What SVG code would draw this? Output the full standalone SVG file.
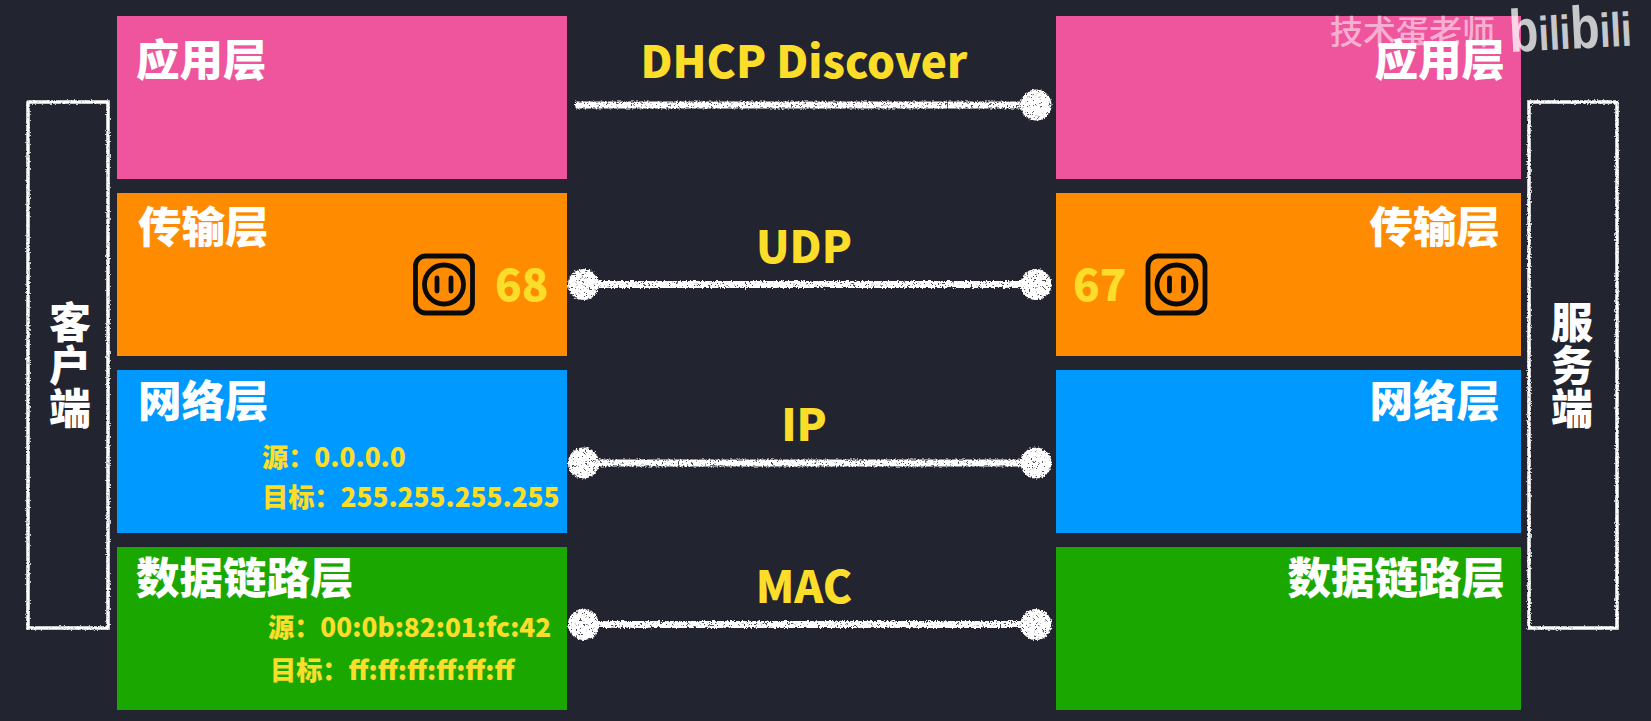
<svg xmlns="http://www.w3.org/2000/svg" width="1651" height="721" viewBox="0 0 1651 721">
<defs>
<filter id="chalk" filterUnits="userSpaceOnUse" x="0" y="0" width="1651" height="721" color-interpolation-filters="sRGB"><feTurbulence type="fractalNoise" baseFrequency="0.7" numOctaves="2" seed="3" result="n"/><feDisplacementMap in="SourceGraphic" in2="n" scale="3" xChannelSelector="R" yChannelSelector="G"/></filter>
<filter id="speck" filterUnits="userSpaceOnUse" x="0" y="0" width="1651" height="721" color-interpolation-filters="sRGB"><feTurbulence type="fractalNoise" baseFrequency="0.55" numOctaves="2" seed="8" result="n"/><feColorMatrix in="n" type="matrix" values="0 0 0 0 0.3  0 0 0 0 0.3  0 0 0 0 0.33  14 0 0 0 -8.4" result="d"/><feComposite in="d" in2="SourceGraphic" operator="in" result="dd"/><feMerge result="m"><feMergeNode in="SourceGraphic"/><feMergeNode in="dd"/></feMerge><feDisplacementMap in="m" in2="n" scale="4" xChannelSelector="G" yChannelSelector="R"/></filter>
<g id="socket"><rect x="-28.500" y="-28.500" width="57" height="57" rx="10" class="sk"/><circle r="19.500" class="sk"/><path d="M-7 -6.500V6.500M7 -6.500V6.500" class="sk" stroke-linecap="round"/></g>
</defs>
<style>
text{font-family:"Noto Sans CJK SC","Noto Sans",sans-serif}
.h{font-size:43.500px;font-weight:900;fill:#fff}
.e{text-anchor:end}
.p{font-size:44px;font-weight:900;fill:#FBDD2A}
.l{font-size:44px;font-weight:900;fill:#FBDD2A;text-anchor:middle}
.s{font-size:26.200px;font-weight:900;fill:#FBDD2A}
.v{font-size:42px;font-weight:900;fill:#fff;text-anchor:middle}
.sk{fill:none;stroke:#0a0a0a;stroke-width:4.800}
.box{fill:none;stroke:#fff;stroke-width:3.500}
.ln{stroke:#fff;stroke-width:7;fill:none}
.dot{fill:#fff}
</style>
<rect width="1651" height="721" fill="#22252F"/>
<g id="client-label"><rect class="box" filter="url(#chalk)" x="28" y="102" width="80" height="526"/><text class="v" x="70" y="338">客</text><text class="v" x="70" y="381">户</text><text class="v" x="70" y="424">端</text></g>
<g id="server-label"><rect class="box" filter="url(#chalk)" x="1529" y="102" width="88" height="526"/><text class="v" x="1572" y="338">服</text><text class="v" x="1572" y="381">务</text><text class="v" x="1572" y="424">端</text></g>
<g id="client-app"><rect x="117" y="16" width="450" height="163" fill="#EE559D"/><text class="h" x="136" y="76">应用层</text></g>
<g id="client-transport"><rect x="117" y="193" width="450" height="163" fill="#FF8C00"/><text class="h" x="138" y="243">传输层</text><use href="#socket" x="444" y="284.500"/><text class="p" x="495" y="301">68</text></g>
<g id="client-network"><rect x="117" y="370" width="450" height="163" fill="#0099FF"/><text class="h" x="138" y="417">网络层</text><text class="s" x="262" y="467">源：0.0.0.0</text><text class="s" x="262" y="507">目标：255.255.255.255</text></g>
<g id="client-link"><rect x="117" y="547" width="450" height="163" fill="#1AA800"/><text class="h" x="136" y="594">数据链路层</text><text class="s" x="268" y="637">源：00:0b:82:01:fc:42</text><text class="s" x="270" y="680">目标：ff:ff:ff:ff:ff:ff</text></g>
<g id="server-app"><rect x="1056" y="16" width="465" height="163" fill="#EE559D"/><text class="h e" x="1505" y="76">应用层</text></g>
<g id="server-transport"><rect x="1056" y="193" width="465" height="163" fill="#FF8C00"/><text class="h e" x="1500" y="243">传输层</text><use href="#socket" x="1176.500" y="284.500"/><text class="p" x="1073" y="301">67</text></g>
<g id="server-network"><rect x="1056" y="370" width="465" height="163" fill="#0099FF"/><text class="h e" x="1500" y="417">网络层</text></g>
<g id="server-link"><rect x="1056" y="547" width="465" height="163" fill="#1AA800"/><text class="h e" x="1505" y="594">数据链路层</text></g>
<g id="connectors" filter="url(#speck)">
<path class="ln" d="M575 105H1025"/>
<path class="ln" d="M590 284.500H1025"/>
<path class="ln" d="M590 463H1025"/>
<path class="ln" d="M590 624.500H1025"/>
<circle class="dot" cx="1036" cy="105" r="15.500"/>
<circle class="dot" cx="583.500" cy="284.500" r="15.500"/>
<circle class="dot" cx="1036" cy="284.500" r="15.500"/>
<circle class="dot" cx="583.500" cy="463" r="15.500"/>
<circle class="dot" cx="1036" cy="463" r="15.500"/>
<circle class="dot" cx="583.500" cy="624.500" r="15.500"/>
<circle class="dot" cx="1036" cy="624.500" r="15.500"/>
</g>
<g id="labels">
<text class="l" x="804" y="78">DHCP Discover</text>
<text class="l" x="804" y="263">UDP</text>
<text class="l" x="804" y="441">IP</text>
<text class="l" x="804" y="603">MAC</text>
</g>
<g id="watermark">
<text x="1330" y="44" font-size="33" font-weight="500" fill="#fff" fill-opacity=".55">技术蛋老师</text>
<text transform="translate(1510 52) rotate(-3) scale(.8 1)" font-weight="700" fill="#fff" fill-opacity=".75" style="font-family:'Liberation Sans',sans-serif"><tspan font-size="60">b</tspan><tspan font-size="48">ili</tspan><tspan font-size="60">b</tspan><tspan font-size="48">ili</tspan></text>
</g>
</svg>
